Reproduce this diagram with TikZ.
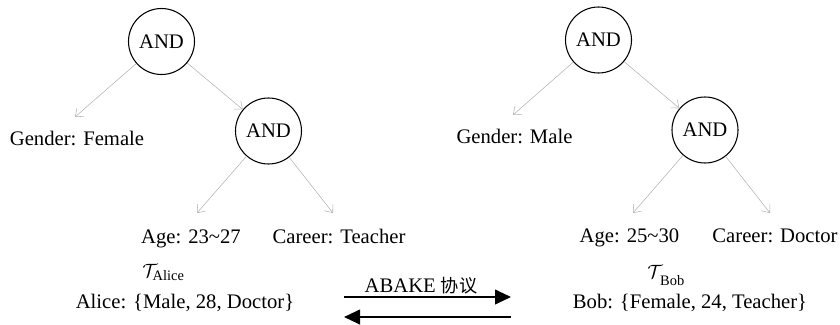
\documentclass[tikz,border=0pt]{standalone}
\usepackage{amsmath}
\usepackage{fontspec}
\setmainfont{Liberation Serif}
\newfontfamily\cjk[Scale=0.88]{Noto Sans CJK SC}
\usetikzlibrary{arrows.meta}

\begin{document}
\begin{tikzpicture}[x=0.75pt,y=-0.75pt,
        font=\fontsize{15.5}{18}\selectfont,
        andnode/.style={circle,draw,line width=0.8pt,minimum size=49.5pt,inner sep=0pt},
        txt/.style={anchor=base,inner sep=0pt},
        leaf/.style={draw=black!30,line width=0.4pt,-{Straight Barb[length=5pt,width=8pt]}},
        proto/.style={line width=1.5pt,-{Triangle[length=12pt,width=11pt]}}]
        \useasboundingbox (0,0) rectangle (840,325);
        \node[andnode] (andA) at (161.5,41.5) {AND};
        \node[andnode] (andA2) at (268.5,131) {AND};
        \node[txt] (genA) at (77,145) {Gender: Female};
        \node[txt] (ageA) at (191,243) {Age: 23\textasciitilde27};
        \node[txt] (carA) at (339,243) {Career: Teacher};
        \node[txt,anchor=base west] (treeA) at (142,277) {$\mathcal{T}_{\text{Alice}}$};
        \node[txt] (alice) at (185,308) {Alice: \{Male, 28, Doctor\}};
        \coordinate (tipGenA) at (75,117);
        \coordinate (tipAgeA) at (197,213);
        \coordinate (tipCarA) at (333,213);
        \draw[leaf] (andA) -- (tipGenA);
        \draw[leaf] (andA) -- (andA2);
        \draw[leaf] (andA2) -- (tipAgeA);
        \draw[leaf] (andA2) -- (tipCarA);
        \node[andnode] (andB) at (598.5,40) {AND};
        \node[andnode] (andB2) at (705,130) {AND};
        \node[txt] (genB) at (514.5,143) {Gender: Male};
        \node[txt] (ageB) at (629.5,242) {Age: 25\textasciitilde30};
        \node[txt] (carB) at (775,242) {Career: Doctor};
        \node[txt,anchor=base west] (treeB) at (647,278) {$\mathcal{T}_{\,\text{\raisebox{-0.35em}{Bob}}}$};
        \node[txt] (bob) at (690,308) {Bob: \{Female, 24, Teacher\}};
        \coordinate (tipGenB) at (513,115);
        \coordinate (tipAgeB) at (633,213);
        \coordinate (tipCarB) at (770,213);
        \draw[leaf] (andB) -- (tipGenB);
        \draw[leaf] (andB) -- (andB2);
        \draw[leaf] (andB2) -- (tipAgeB);
        \draw[leaf] (andB2) -- (tipCarB);
        \node[txt] (abake) at (421,292) {ABAKE {\cjk 协议}};
        \coordinate (sendL) at (344,297);
        \coordinate (sendR) at (511,297);
        \coordinate (backL) at (344,317);
        \coordinate (backR) at (511,317);
        \draw[proto] (sendL) -- (sendR);
        \draw[proto] (backR) -- (backL);
    \end{tikzpicture}
\end{document}
